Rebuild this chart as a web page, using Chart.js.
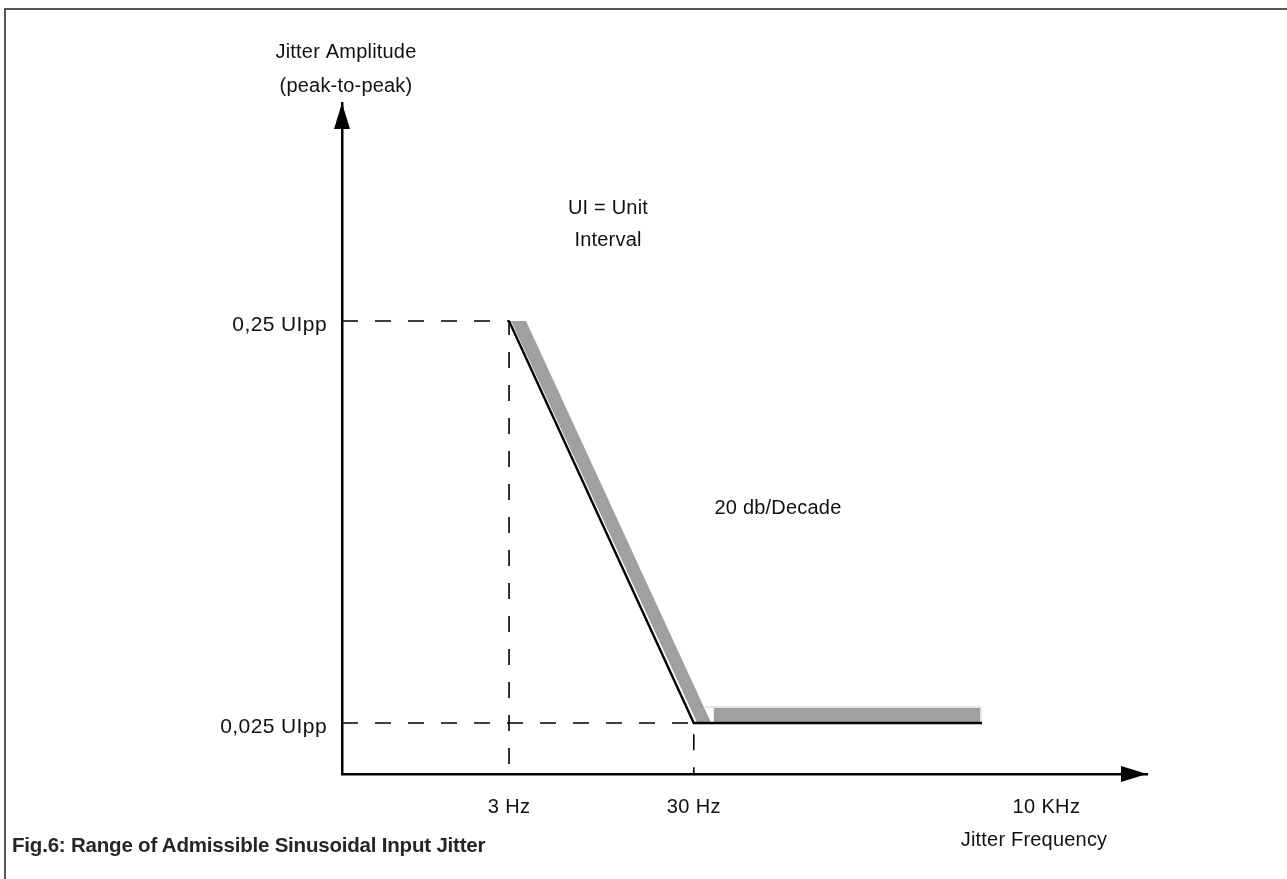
<!DOCTYPE html>
<html>
<head>
<meta charset="utf-8">
<script src="https://cdn.jsdelivr.net/npm/chart.js@4.4.1/dist/chart.umd.min.js"></script>
<style>
  html, body { margin: 0; padding: 0; background: #fff; overflow: hidden; }
  #wrap { position: relative; width: 1287px; height: 879px; }
  #frame { position: absolute; left: 4px; top: 8px; width: 1300px; height: 900px;
           border-top: 2px solid #555; border-left: 2px solid #555; }
  canvas { position: absolute; left: 0; top: 0; }
  #caption { position: absolute; left: 12px; top: 833px; font-family: "Liberation Sans", Arial, sans-serif;
             font-weight: bold; font-size: 20.5px; letter-spacing: -0.2px; color: #262626; white-space: nowrap; }
</style>
</head>
<body>
<div id="wrap">
  <div id="frame"></div>
  <canvas id="c" width="1287" height="879"></canvas>
  <div id="caption">Fig.6: Range of Admissible Sinusoidal Input Jitter</div>
</div>
<script>
// ---- data ----
const xTickPos    = [20.75, 43.7, 87.5];          // schematic positions of frequency marks
const xTickLabels = ['3 Hz', '30 Hz', '10 KHz'];
const yTickVals   = [0.25, 0.025];                // UIpp
const yTickLabels = ['0,25 UIpp', '0,025 UIpp'];
const maskPos     = [20.75, 43.7, 79.5];          // tolerance mask corner positions
const maskAmp     = [0.25, 0.025, 0.025];         // tolerance mask amplitudes (UIpp)
const yAxisTitle  = ['Jitter Amplitude', '(peak-to-peak)'];
const xAxisTitle  = 'Jitter Frequency';
const noteUI      = ['UI = Unit', 'Interval'];
const noteSlope   = '20 db/Decade';

const X_MIN = 0, X_MAX = 100, Y_MIN = 0.01866, Y_MAX = 0.8715;

const maskData = maskPos.map((x, i) => ({x, y: maskAmp[i]}));
const guideHigh = [{x: X_MIN, y: yTickVals[0]}, {x: xTickPos[0], y: yTickVals[0]}, {x: xTickPos[0], y: Y_MIN}];
const guideLow  = [{x: X_MIN, y: yTickVals[1]}, {x: xTickPos[1], y: yTickVals[1]}, {x: xTickPos[1], y: Y_MIN}];

const TXT = '20px "Liberation Sans", Arial, sans-serif';

const decor = {
  id: 'decor',
  beforeDraw(chart) { chart.ctx.letterSpacing = '0.4px'; },
  beforeDatasetsDraw(chart) {
    const {ctx, scales: {x, y}} = chart;
    const p = maskData.map(d => ({x: x.getPixelForValue(d.x), y: y.getPixelForValue(d.y)}));
    const W = 15, H = 14;
    ctx.save();
    ctx.fillStyle = '#a0a0a0';
    ctx.beginPath();
    ctx.moveTo(p[0].x + 2, p[0].y);
    ctx.lineTo(p[0].x + 2 + W, p[0].y);
    ctx.lineTo(p[1].x + 2 + W, p[1].y - 1);
    ctx.lineTo(p[1].x + 3, p[1].y - 1);
    ctx.closePath();
    ctx.fill();
    const hx0 = p[1].x + W + 5, hx1 = p[2].x - 2;
    ctx.fillRect(hx0, p[1].y - 1 - H, hx1 - hx0, H);
    ctx.strokeStyle = '#dedede';
    ctx.lineWidth = 1.5;
    ctx.beginPath();
    ctx.moveTo(p[1].x + W - 4, p[1].y - 2 - H);
    ctx.lineTo(hx1 + 1, p[1].y - 2 - H);
    ctx.lineTo(hx1 + 1, p[1].y - 1);
    ctx.stroke();
    ctx.restore();
  },
  afterDraw(chart) {
    const {ctx, chartArea: a} = chart;
    ctx.save();
    ctx.fillStyle = '#000';
    // y arrow
    ctx.beginPath();
    ctx.moveTo(a.left, a.top);
    ctx.lineTo(a.left - 8, a.top + 26);
    ctx.lineTo(a.left + 8, a.top + 26);
    ctx.closePath(); ctx.fill();
    // x arrow
    ctx.beginPath();
    ctx.moveTo(a.right, a.bottom);
    ctx.lineTo(a.right - 26, a.bottom - 8);
    ctx.lineTo(a.right - 26, a.bottom + 8);
    ctx.closePath(); ctx.fill();
    // texts
    ctx.font = TXT;
    ctx.letterSpacing = '0.2px';
    ctx.fillStyle = '#111';
    ctx.textAlign = 'center';
    ctx.textBaseline = 'middle';
    ctx.fillText(yAxisTitle[0], a.left + 4, 52);
    ctx.fillText(yAxisTitle[1], a.left + 4, 86);
    ctx.fillText(noteUI[0], 608, 208);
    ctx.fillText(noteUI[1], 608, 240);
    ctx.fillText(noteSlope, 778, 508);
    ctx.fillText(xAxisTitle, 1034, 840);
    ctx.restore();
  }
};

const dashStyle = {borderColor: '#000', borderWidth: 1.6, borderDash: [16, 17], pointRadius: 0, showLine: true, fill: false, clip: false};

new Chart(document.getElementById('c'), {
  type: 'scatter',
  data: {
    datasets: [
      Object.assign({data: guideHigh}, dashStyle),
      Object.assign({data: guideLow}, dashStyle),
      {data: maskData, borderColor: '#000', borderWidth: 2.4, pointRadius: 0, showLine: true, fill: false, clip: false}
    ]
  },
  options: {
    responsive: false,
    animation: false,
    events: [],
    layout: {padding: {top: 103, right: 140, left: 0, bottom: 0}},
    plugins: {legend: {display: false}, tooltip: {enabled: false}, title: {display: false}},
    scales: {
      x: {
        type: 'linear', min: X_MIN, max: X_MAX,
        afterFit: s => { s.height = 105; },
        afterBuildTicks: s => { s.ticks = xTickPos.map(v => ({value: v})); },
        grid: {drawOnChartArea: false, drawTicks: false, color: 'transparent'},
        border: {display: true, color: '#000', width: 2.5},
        ticks: {
          autoSkip: false, maxRotation: 0, padding: 21, color: '#111',
          font: {family: '"Liberation Sans", Arial, sans-serif', size: 20},
          callback: (v) => xTickLabels[xTickPos.indexOf(v)]
        }
      },
      y: {
        type: 'logarithmic', min: Y_MIN, max: Y_MAX,
        afterFit: s => { s.width = 342; },
        afterBuildTicks: s => { s.ticks = yTickVals.map(v => ({value: v})); },
        grid: {drawOnChartArea: false, drawTicks: false, color: 'transparent'},
        border: {display: true, color: '#000', width: 2.5},
        ticks: {
          autoSkip: false, padding: 15, labelOffset: 4, color: '#111',
          font: {family: '"Liberation Sans", Arial, sans-serif', size: 21},
          callback: (v) => yTickLabels[yTickVals.indexOf(v)]
        }
      }
    }
  },
  plugins: [decor]
});
</script>
</body>
</html>
